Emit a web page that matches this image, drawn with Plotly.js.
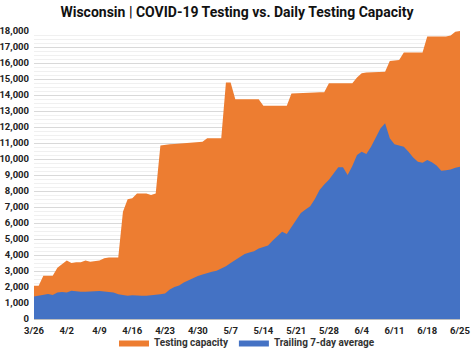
<!DOCTYPE html>
<html>
<head>
<meta charset="utf-8">
<script src="https://cdn.plot.ly/plotly-3.0.1.min.js"></script>
<style>html,body{margin:0;padding:0;background:#fff;}#chart{width:474px;height:357px;}</style>
</head>
<body>
<div id="chart"></div>
<script>
const startDate = "2020-03-26";
const seriesNames = ["Testing capacity", "Trailing 7-day average"];
const testingCapacity = [
  2080, 2080, 2700, 2700, 2700, 3200, 3450, 3650, 3500, 3550,
  3550, 3650, 3580, 3600, 3650, 3800, 3850, 3850, 3850, 6700,
  7480, 7550, 7850, 7850, 7850, 7750, 7850, 10850, 10900, 10920,
  10940, 10960, 10980, 11000, 11020, 11050, 11080, 11300, 11300, 11300,
  11300, 14780, 14780, 13730, 13730, 13730, 13730, 13730, 13730, 13330,
  13330, 13330, 13330, 13330, 13330, 14100, 14120, 14130, 14140, 14150,
  14160, 14170, 14170, 14730, 14730, 14730, 14730, 14730, 14730, 15100,
  15360, 15400, 15420, 15440, 15460, 15460, 16120, 16150, 16190, 16650,
  16650, 16650, 16650, 16650, 17650, 17650, 17650, 17650, 17650, 17720,
  17960, 18000
];
const trailingAverage = [
  1400, 1450, 1500, 1560, 1500, 1650, 1690, 1650, 1770, 1720,
  1700, 1700, 1720, 1750, 1750, 1720, 1700, 1650, 1550, 1480,
  1450, 1480, 1450, 1450, 1460, 1480, 1520, 1550, 1600, 1850,
  2000, 2100, 2280, 2420, 2550, 2680, 2780, 2880, 2950, 3020,
  3150, 3300, 3500, 3700, 3900, 4060, 4150, 4230, 4400, 4500,
  4600, 4900, 5200, 5460, 5310, 5770, 6200, 6620, 6850, 7050,
  7500, 8060, 8400, 8700, 9100, 9480, 9480, 9000, 9560, 10250,
  10460, 10310, 10770, 11300, 11900, 12230, 11290, 10920, 10850, 10770,
  10460, 10100, 9830, 9770, 9940, 9800, 9600, 9270, 9300, 9350,
  9450, 9520
];
const tickDates = ["2020-03-26","2020-04-02","2020-04-09","2020-04-16","2020-04-23","2020-04-30","2020-05-07","2020-05-14","2020-05-21","2020-05-28","2020-06-04","2020-06-11","2020-06-18","2020-06-25"];
const tickLabels = ["3/26","4/2","4/9","4/16","4/23","4/30","5/7","5/14","5/21","5/28","6/4","6/11","6/18","6/25"];

function dateList(start, n) {
  const out = [];
  const d0 = new Date(start + "T00:00:00Z");
  for (let i = 0; i < n; i++) {
    const d = new Date(d0.getTime() + i * 86400000);
    out.push(d.toISOString().slice(0, 10));
  }
  return out;
}
const dates = dateList(startDate, testingCapacity.length);

const FONT = "Roboto, 'Liberation Sans', Arial, sans-serif";

const traces = [
  {
    x: dates, y: testingCapacity, name: seriesNames[0], type: "scatter", mode: "lines",
    fill: "tozeroy", fillcolor: "#ED7D31", line: {width: 0, color: "#ED7D31"}
  },
  {
    x: dates, y: trailingAverage, name: seriesNames[1], type: "scatter", mode: "lines",
    fill: "tozeroy", fillcolor: "#4472C4", line: {width: 0, color: "#4472C4"}
  }
];

const layout = {
  width: 474, height: 357,
  margin: {l: 34, r: 14, t: 31, b: 38, autoexpand: false},
  paper_bgcolor: "#fff", plot_bgcolor: "#fff",
  font: {family: FONT, color: "#222", size: 10},
  title: {
    text: "<b>Wisconsin | COVID-19 Testing vs. Daily Testing Capacity</b>",
    font: {family: FONT, size: 14, color: "#111"},
    x: 0.5, xanchor: "center", y: 0.965, yanchor: "middle"
  },
  showlegend: true,
  legend: {
    orientation: "h", x: 0.5, xanchor: "center",
    yref: "container", y: -0.012, yanchor: "bottom",
    bgcolor: "rgba(0,0,0,0)",
    font: {family: FONT, size: 10, color: "#333", weight: "bold"}, itemwidth: 30,
    traceorder: "normal", tracegroupgap: 0
  },
  xaxis: {
    type: "date",
    range: [dates[0], dates[dates.length - 1]],
    tickvals: tickDates, ticktext: tickLabels,
    tickfont: {family: FONT, size: 9.5, color: "#222", weight: "bold"},
    ticklabelstandoff: 3,
    showgrid: false, zeroline: false,
    showline: true, linecolor: "#bfbfbf", linewidth: 1,
    ticks: "", ticklen: 0, automargin: false
  },
  yaxis: {
    range: [0, 18000], dtick: 1000, tickformat: ",d",
    tickfont: {family: FONT, size: 9.5, color: "#222", weight: "bold"},
    ticklabelstandoff: 4,
    showgrid: true, gridcolor: "#d9d9d9", gridwidth: 1,
    minor: {dtick: 250, showgrid: true, gridcolor: "#f0f0f0", gridwidth: 1},
    zeroline: false, showline: false, ticks: "", automargin: false
  }
};

Plotly.newPlot("chart", traces, layout, {displayModeBar: false, staticPlot: true});
</script>
</body>
</html>
